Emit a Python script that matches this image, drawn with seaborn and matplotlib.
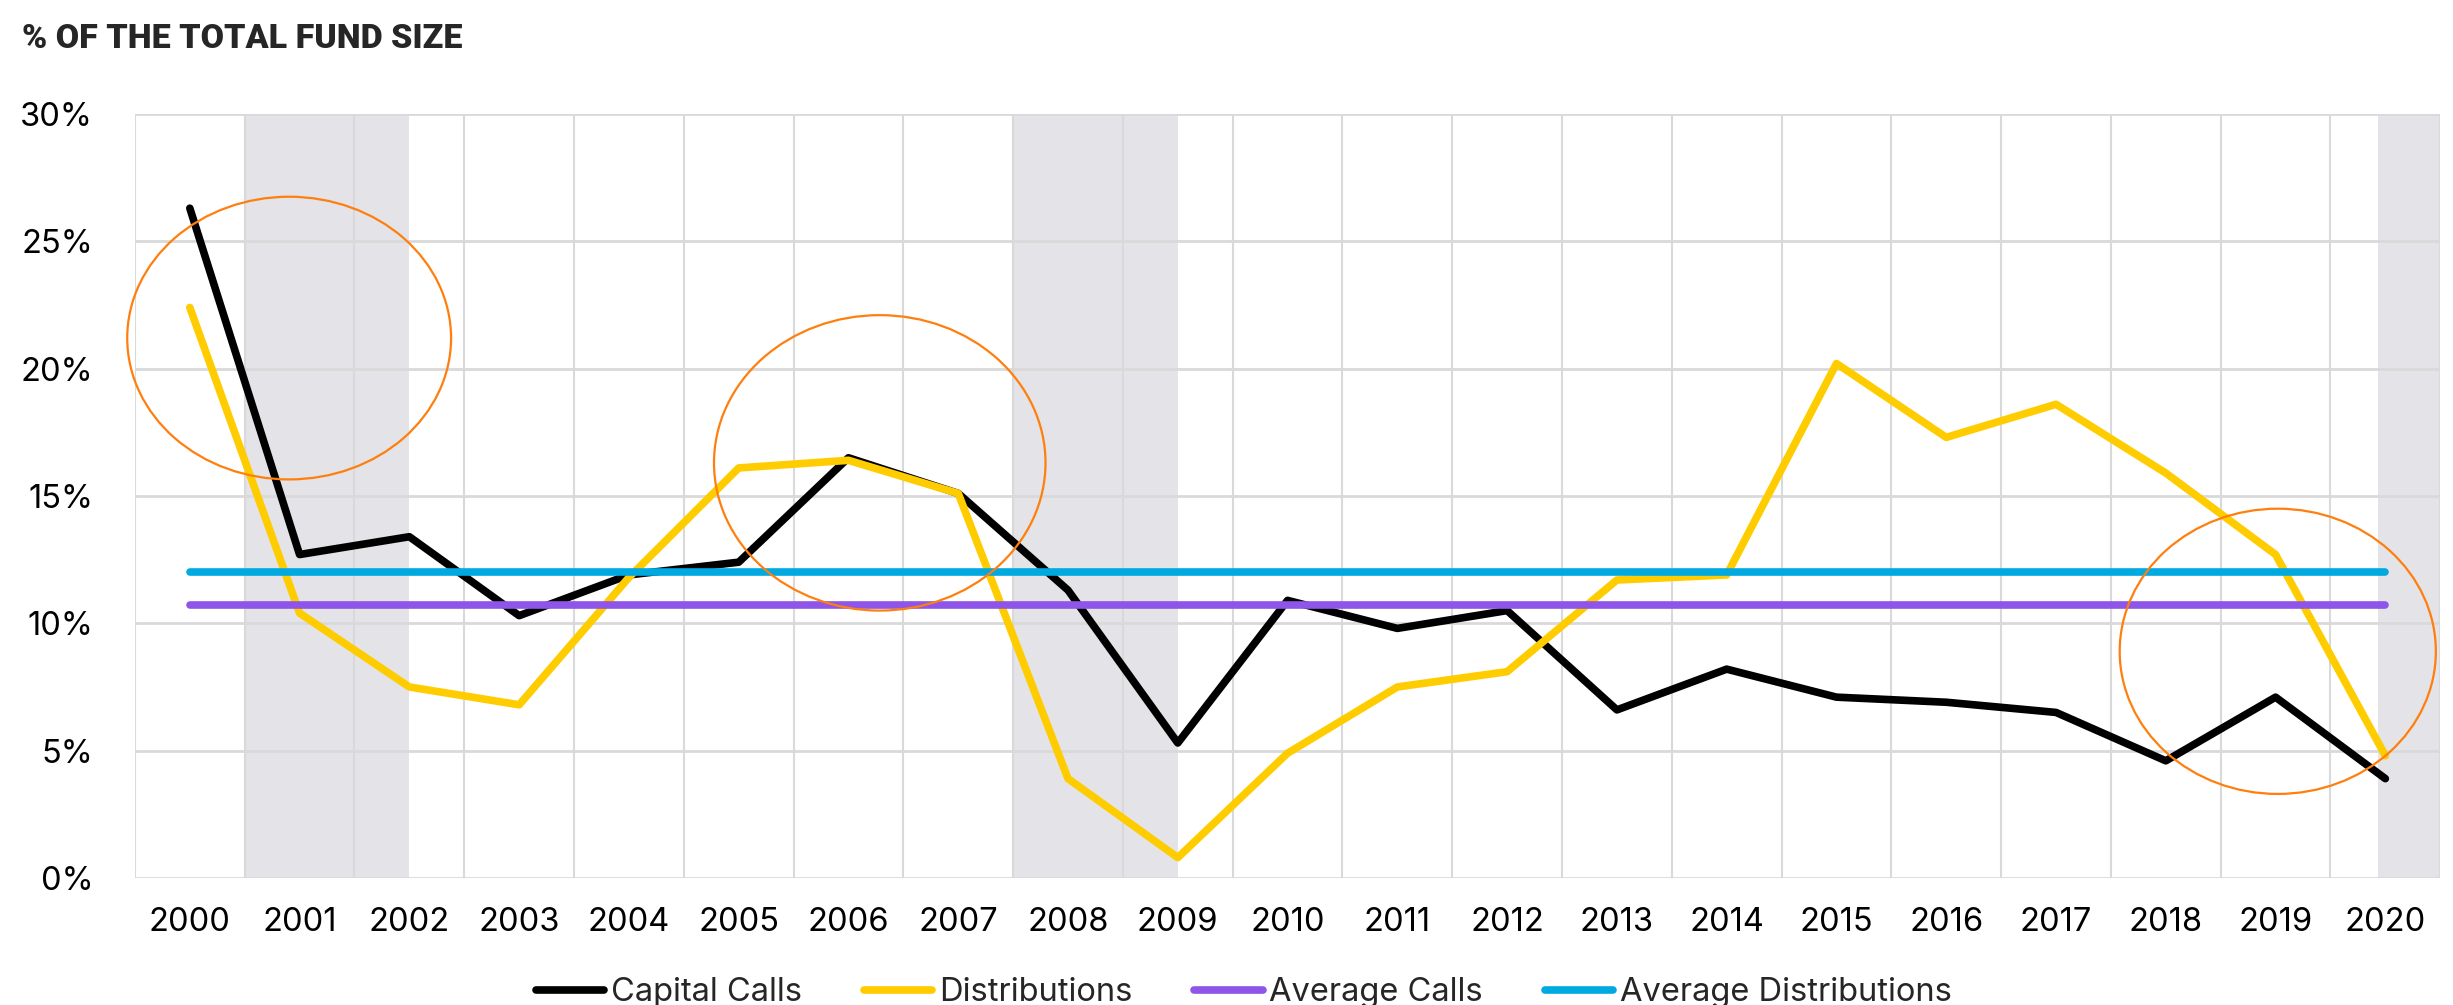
import numpy as np
import pandas as pd
import matplotlib
matplotlib.use("Agg")
import matplotlib.pyplot as plt
import seaborn as sns
from matplotlib.patches import Ellipse
from matplotlib.ticker import FuncFormatter, MultipleLocator

# ---------------------- data ----------------------
years = list(range(2000, 2021))
capital_calls = [26.3, 12.7, 13.4, 10.3, 11.9, 12.4, 16.5, 15.1, 11.3, 5.3, 10.9,
                 9.8, 10.5, 6.6, 8.2, 7.1, 6.9, 6.5, 4.6, 7.1, 3.9]
distributions = [22.4, 10.4, 7.5, 6.8, 11.8, 16.1, 16.4, 15.1, 3.9, 0.8, 4.9,
                 7.5, 8.1, 11.7, 11.9, 20.2, 17.3, 18.6, 15.9, 12.7, 4.8]
avg_calls = 10.7
avg_distributions = 12.0
series_names = ["Capital Calls", "Distributions", "Average Calls", "Average Distributions"]
colors = ["#000000", "#FFCC00", "#8F55E8", "#00A9E0"]

# recession shading (start, end) in years
shades = [(2000.5, 2002.0), (2007.5, 2009.0), (2019.93, 2020.5)]
# highlighted areas: (center year, center %, width in years, height in %)
circles = [(2000.905, 21.2, 2.95, 11.1), (2006.285, 16.3, 3.02, 11.6), (2019.02, 8.9, 2.88, 11.2)]

df = pd.DataFrame({
    "year": years * 4,
    "value": capital_calls + distributions + [avg_calls] * len(years) + [avg_distributions] * len(years),
    "series": np.repeat(series_names, len(years)),
})

# ---------------------- plot ----------------------
sns.set_theme(style="white")
plt.rcParams["font.family"] = ["Inter", "DejaVu Sans"]

fig = plt.figure(figsize=(24.53, 10.05), dpi=100)
ax = fig.add_axes([0.055, 0.1264, 0.9398, 0.7602])

for s0, s1 in shades:
    ax.axvspan(s0, s1, color="#E3E3E8", lw=0, zorder=0)

sns.lineplot(data=df, x="year", y="value", hue="series", hue_order=series_names,
             palette=colors, linewidth=5.5, ax=ax, legend=True, zorder=3)
for line in ax.get_lines():
    line.set_solid_capstyle("round")

for cx, cy, w, h in circles:
    ax.add_patch(Ellipse((cx, cy), w, h, fill=False, edgecolor="#FF7F0E", lw=1.6,
                         zorder=4, clip_on=False))

ax.set_xlim(1999.5, 2020.5)
ax.set_ylim(0, 30)
ax.set_xticks(years)
ax.xaxis.set_minor_locator(MultipleLocator(1, offset=0.5))
ax.yaxis.set_major_locator(MultipleLocator(5))
ax.yaxis.set_major_formatter(FuncFormatter(lambda v, _: f"{v:.0f}%"))
ax.grid(True, which="major", axis="y", color="#D9D9D9", lw=2, zorder=1)
ax.grid(True, which="minor", axis="x", color="#D9D9D9", lw=1.5, zorder=1)
ax.set_axisbelow(True)
for sp in ax.spines.values():
    sp.set_visible(False)
ax.tick_params(axis="both", which="both", length=0, labelsize=23.5, colors="black")
ax.tick_params(axis="y", pad=30)
ax.tick_params(axis="x", pad=21)
ax.set_xlabel("")
ax.set_ylabel("")

handles, labels = ax.get_legend_handles_labels()
ax.get_legend().remove()
fig.legend(handles, labels, loc="center", bbox_to_anchor=(0.507, 0.012), ncol=4,
           frameon=False, fontsize=23.5, handlelength=2.1, handletextpad=0.2,
           columnspacing=1.9)

fig.text(0.009, 1 - 48 / 1005, "% OF THE TOTAL FUND SIZE", fontsize=24.5, fontweight="heavy",
         family=["Roboto", "DejaVu Sans"], va="baseline", ha="left")

fig.savefig("out.png", dpi=100)
